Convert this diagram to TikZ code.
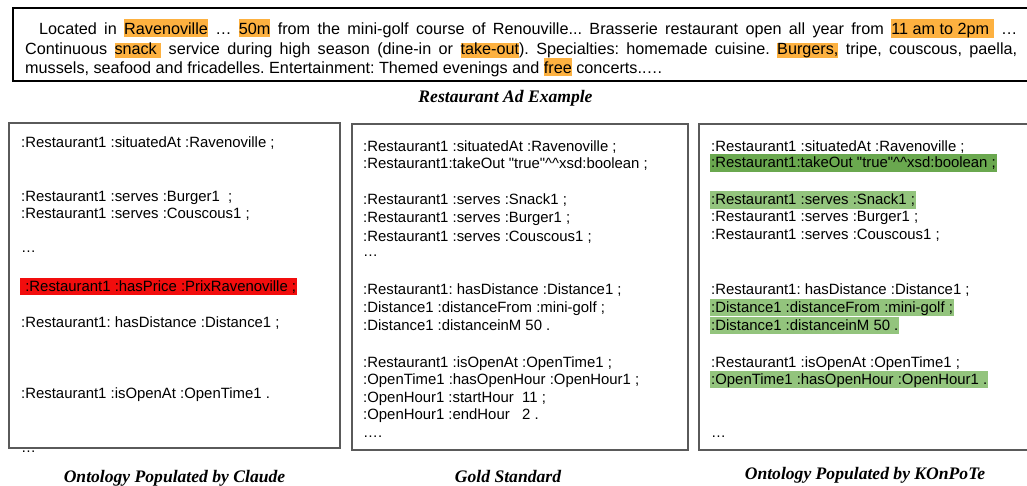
\documentclass[tikz,border=0pt]{standalone}
\usepackage{fontspec}
\setmainfont{Liberation Sans}
\newfontfamily\plainfont{Liberation Sans}[Ligatures=TeXOff]
\newfontfamily\capfont{Liberation Serif}
\definecolor{hlorange}{HTML}{FDB140}
\definecolor{hlred}{HTML}{F20D0D}
\definecolor{gdark}{HTML}{6AA84F}
\definecolor{glight}{HTML}{93C47D}
\definecolor{framegray}{HTML}{5A5A5A}
\frenchspacing
\newcommand\hlT[1]{{\setlength\fboxsep{0pt}\colorbox{hlorange}{\rule[-2.5pt]{0pt}{18.5pt}#1}}}
\newcommand\hlS[1]{{\setlength\fboxsep{0pt}\colorbox{hlorange}{\rule[-3pt]{0pt}{15pt}#1}}}
\newcommand\hlL[2]{{\setlength\fboxsep{0pt}\colorbox{#1}{\rule[-4pt]{0pt}{17.5pt}\kern1pt#2\kern1pt}}}
\newcommand\cc{\textasciicircum\textasciicircum}
\newcommand\dq{\char34\relax}
\begin{document}
\begin{tikzpicture}[x=1pt,y=-1pt,
  adline/.style={anchor=base west,inner sep=0pt,font=\fontsize{16.2}{19.5}\selectfont},
  ln/.style={anchor=base west,inner sep=0pt,font=\plainfont\fontsize{14.9}{18}\selectfont},
  caption/.style={anchor=base,inner sep=0pt,font=\capfont\bfseries\itshape\fontsize{17.6}{20}\selectfont},
  panel/.style={draw=framegray,line width=1.6pt},
  adframe/.style={draw=black,line width=2.2pt}]
\useasboundingbox (0,0) rectangle (1027,486);
\clip (0,0) rectangle (1027,486);
% top ad box
\draw[adframe] (13,8) rectangle (1031,81);
\node[adline] (ad1) at (39,35) {\makebox[978pt][s]{Located in \hlT{Ravenoville} … \hlT{50m} from the mini-golf course of Renouville... Brasserie restaurant open all year from \hlT{11 am to 2pm\ } …}};
\node[adline] (ad2) at (25,55) {\makebox[992pt][s]{Continuous \hlS{snack\ } service during high season (dine-in or \hlS{take-out}). Specialties: homemade cuisine. \hlS{Burgers,} tripe, couscous, paella,}};
\node[adline] (ad3) at (25,74) {mussels, seafood and fricadelles. Entertainment: Themed evenings and \hlT{free} concerts..…};
\node[caption] (capad) at (505.5,103) {Restaurant Ad Example};
% panels
\draw[panel] (9,123) rectangle (340,448);
\draw[panel] (352,124) rectangle (688,450);
\draw[panel] (699,124) rectangle (1040,450);
% Claude
\node[ln] (c1) at (21,148) {:Restaurant1 :situatedAt :Ravenoville ;};
\node[ln] (c2) at (21,202) {:Restaurant1 :serves :Burger1\ \ ;};
\node[ln] (c3) at (21,219) {:Restaurant1 :serves :Couscous1 ;};
\node[ln] (c4) at (21,253) {…};
\node[ln] (c5) at (20,291) {\hlL{hlred}{\ :Restaurant1 :hasPrice :PrixRavenoville ;}};
\node[ln] (c6) at (21,327) {:Restaurant1: hasDistance :Distance1 ;};
\node[ln] (c7) at (21,398) {:Restaurant1 :isOpenAt :OpenTime1 .};
\node[ln] (c8) at (21,452) {…};
% Gold
\node[ln] (g1) at (363,152) {:Restaurant1 :situatedAt :Ravenoville ;};
\node[ln] (g2) at (363,169) {:Restaurant1:takeOut \dq true\dq\cc xsd:boolean ;};
\node[ln] (g3) at (363,205) {:Restaurant1 :serves :Snack1 ;};
\node[ln] (g4) at (363,223) {:Restaurant1 :serves :Burger1 ;};
\node[ln] (g5) at (363,241) {:Restaurant1 :serves :Couscous1 ;};
\node[ln] (g6) at (363,256) {…};
\node[ln] (g7) at (363,294) {:Restaurant1: hasDistance :Distance1 ;};
\node[ln] (g8) at (363,312) {:Distance1 :distanceFrom :mini-golf ;};
\node[ln] (g9) at (363,330) {:Distance1 :distanceinM 50 .};
\node[ln] (g10) at (363,367) {:Restaurant1 :isOpenAt :OpenTime1 ;};
\node[ln] (g11) at (363,384) {:OpenTime1 :hasOpenHour :OpenHour1 ;};
\node[ln] (g12) at (363,402) {:OpenHour1 :startHour\ \ 11 ;};
\node[ln] (g13) at (363,419) {:OpenHour1 :endHour\ \ \ 2 .};
\node[ln] (g14) at (363,437) {….};
% KOnPoTe
\node[ln] (k1) at (711,152) {:Restaurant1 :situatedAt :Ravenoville ;};
\node[ln] (k2) at (710,168) {\hlL{gdark}{:Restaurant1:takeOut \dq true\dq\cc xsd:boolean ;}};
\node[ln] (k3) at (710,205) {\hlL{glight}{:Restaurant1 :serves :Snack1 ;}};
\node[ln] (k4) at (711,222) {:Restaurant1 :serves :Burger1 ;};
\node[ln] (k5) at (711,240) {:Restaurant1 :serves :Couscous1 ;};
\node[ln] (k6) at (711,294) {:Restaurant1: hasDistance :Distance1 ;};
\node[ln] (k7) at (710,312) {\hlL{glight}{:Distance1 :distanceFrom :mini-golf ;}};
\node[ln] (k8) at (710,330) {\hlL{glight}{:Distance1 :distanceinM 50 .}};
\node[ln] (k9) at (711,367) {:Restaurant1 :isOpenAt :OpenTime1 ;};
\node[ln] (k10) at (710,384) {\hlL{glight}{:OpenTime1 :hasOpenHour :OpenHour1 .}};
\node[ln] (k11) at (711,437) {…};
% captions
\node[caption] (capc) at (174.5,482) {Ontology Populated by Claude};
\node[caption] (capg) at (508,482) {Gold Standard};
\node[caption] (capk) at (865,479) {Ontology Populated by KOnPoTe};
\end{tikzpicture}
\end{document}
